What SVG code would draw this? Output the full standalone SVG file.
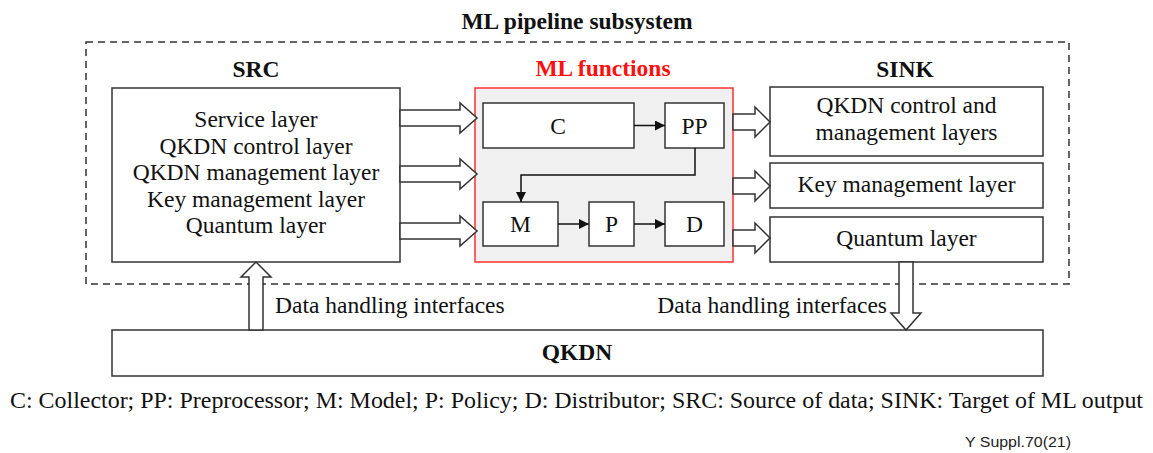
<svg xmlns="http://www.w3.org/2000/svg" width="1153" height="453" viewBox="0 0 1153 453">
  <style>
    .box { fill: #ffffff; stroke: #333333; stroke-width: 1.5; }
    .t { font-family: "Liberation Serif", "Times New Roman", serif; font-size: 23.5px; fill: #111111; }
    .b { font-weight: bold; }
    .c { text-anchor: middle; }
    .blk { fill: #ffffff; stroke: #333333; stroke-width: 1.5; stroke-linejoin: miter; }
    .ln { fill: none; stroke: #111111; stroke-width: 1.5; }
  </style>
  <defs>
    <marker id="ah" markerWidth="10" markerHeight="10" refX="10" refY="5" orient="auto" markerUnits="userSpaceOnUse">
      <path d="M0,0 L10,5 L0,10 Z" fill="#111111"/>
    </marker>
  </defs>
  <rect width="1153" height="453" fill="#ffffff"/>

  <g id="subsystem">
    <rect x="86" y="42" width="983" height="242" fill="none" stroke="#333333" stroke-width="1.5" stroke-dasharray="7,5"/>
    <text class="t b c" x="577" y="29">ML pipeline subsystem</text>
  </g>

  <g id="src">
    <text class="t b c" x="256" y="77">SRC</text>
    <rect class="box" x="112" y="88" width="288" height="174"/>
    <text class="t c" x="256" y="127">Service layer</text>
    <text class="t c" x="256" y="153.5">QKDN control layer</text>
    <text class="t c" x="256" y="180">QKDN management layer</text>
    <text class="t c" x="256" y="206.5">Key management layer</text>
    <text class="t c" x="256" y="233">Quantum layer</text>
  </g>

  <g id="ml-functions">
    <text class="t b c" x="603" y="76" fill="#ff0000" style="fill:#ff1010">ML functions</text>
    <rect x="475" y="88" width="258" height="174" fill="#f0f0f0" stroke="#ff3030" stroke-width="1.5"/>
  </g>
  <g id="node-c">
    <rect class="box" x="483" y="103" width="151" height="45"/>
    <text class="t c" x="558" y="134">C</text>
  </g>
  <g id="node-pp">
    <rect class="box" x="665" y="103" width="59" height="45"/>
    <text class="t c" x="694.5" y="134">PP</text>
  </g>
  <g id="node-m">
    <rect class="box" x="483" y="202" width="75" height="44"/>
    <text class="t c" x="520.5" y="232">M</text>
  </g>
  <g id="node-p">
    <rect class="box" x="589" y="202" width="45" height="44"/>
    <text class="t c" x="611.5" y="232">P</text>
  </g>
  <g id="node-d">
    <rect class="box" x="665" y="202" width="59" height="44"/>
    <text class="t c" x="694.5" y="232">D</text>
  </g>

  <g id="sink">
    <text class="t b c" x="905" y="77">SINK</text>
  </g>
  <g id="sink-control">
    <rect class="box" x="770" y="87" width="273" height="69"/>
    <text class="t c" x="906.5" y="113">QKDN control and</text>
    <text class="t c" x="906.5" y="140">management layers</text>
  </g>
  <g id="sink-key">
    <rect class="box" x="770" y="163" width="273" height="45"/>
    <text class="t c" x="906.5" y="192">Key management layer</text>
  </g>
  <g id="sink-quantum">
    <rect class="box" x="770" y="217" width="273" height="45"/>
    <text class="t c" x="906.5" y="246">Quantum layer</text>
  </g>

  <g id="qkdn">
    <rect class="box" x="112" y="330" width="931" height="46"/>
    <text class="t b c" x="577" y="360">QKDN</text>
  </g>

  <g id="connectors">
    <polygon class="blk" points="400,110 460,110 460,103 477,118 460,133 460,126 400,126"/>
    <polygon class="blk" points="400,166 460,166 460,159 477,174 460,189 460,182 400,182"/>
    <polygon class="blk" points="400,223 460,223 460,216 477,231 460,246 460,239 400,239"/>
    <polygon class="blk" points="733,114 755,114 755,107 770,122 755,137 755,130 733,130"/>
    <polygon class="blk" points="733,178 755,178 755,171 770,186 755,201 755,194 733,194"/>
    <polygon class="blk" points="733,230 755,230 755,223 770,238 755,253 755,246 733,246"/>
    <polygon class="blk" points="249,330 249,277 241,277 256,262 271,277 263,277 263,330"/>
    <polygon class="blk" points="899,262 899,313 891,313 906,330 921,313 913,313 913,262"/>
    <line class="ln" x1="634" y1="125.5" x2="665" y2="125.5" marker-end="url(#ah)"/>
    <path class="ln" d="M695,148 V175 H521 V202" marker-end="url(#ah)"/>
    <line class="ln" x1="558" y1="224" x2="589" y2="224" marker-end="url(#ah)"/>
    <line class="ln" x1="634" y1="224" x2="665" y2="224" marker-end="url(#ah)"/>
  </g>

  <g id="labels">
    <text class="t" x="275" y="313">Data handling interfaces</text>
    <text class="t" x="887" y="313" text-anchor="end">Data handling interfaces</text>
    <text class="t" x="10" y="408" textLength="1133" lengthAdjust="spacingAndGlyphs">C: Collector; PP: Preprocessor; M: Model; P: Policy; D: Distributor; SRC: Source of data; SINK: Target of ML output</text>
    <text x="965" y="447" font-family="'Liberation Sans', Arial, sans-serif" font-size="15" fill="#222222" textLength="106" lengthAdjust="spacingAndGlyphs">Y Suppl.70(21)</text>
  </g>
</svg>
